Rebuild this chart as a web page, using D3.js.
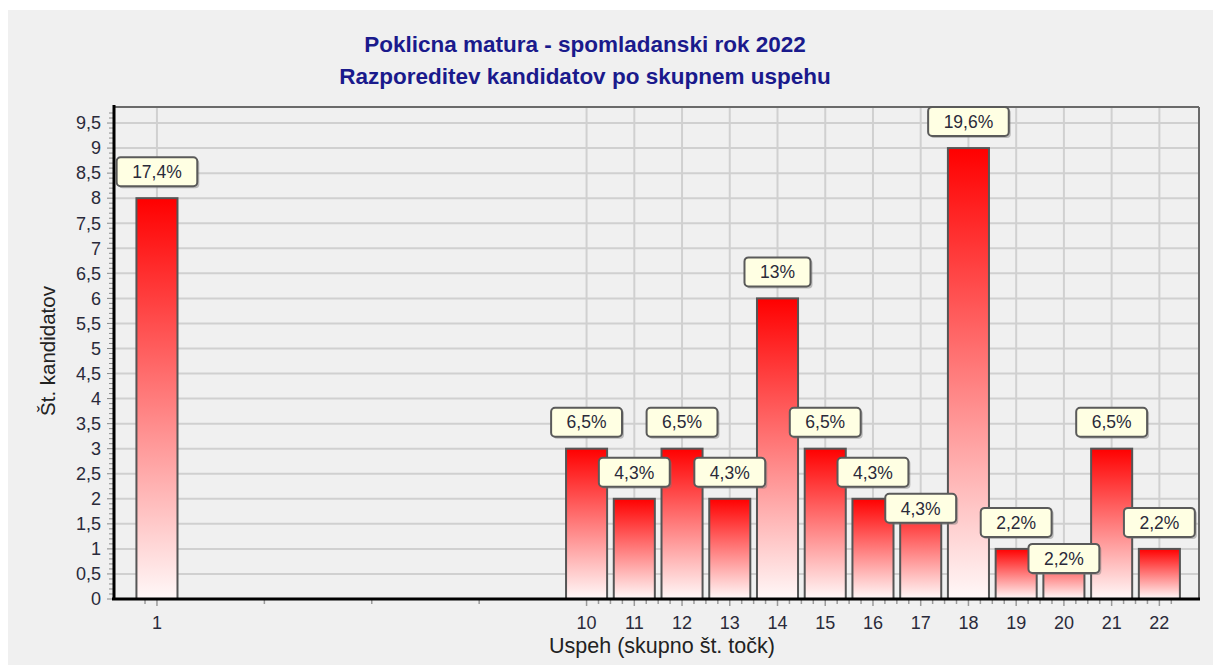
<!DOCTYPE html>
<html lang="sl">
<head>
<meta charset="utf-8">
<title>Poklicna matura - spomladanski rok 2022</title>
<script src="https://cdn.jsdelivr.net/npm/d3@7"></script>
<style>
  body { margin: 0; background: #ffffff; }
  svg { display: block; font-family: "Liberation Sans", Arial, sans-serif; }
</style>
</head>
<body>
<div id="chart"></div>
<script>
// data
var categories = [1, 10, 11, 12, 13, 14, 15, 16, 17, 18, 19, 20, 21, 22];
var counts     = [8, 3, 2, 3, 2, 6, 3, 2, 2, 9, 1, 1, 3, 1];
var pctLabels  = ["17,4%", "6,5%", "4,3%", "6,5%", "4,3%", "13%", "6,5%", "4,3%", "4,3%", "19,6%", "2,2%", "2,2%", "6,5%", "2,2%"];
var yTicks     = [0, 0.5, 1, 1.5, 2, 2.5, 3, 3.5, 4, 4.5, 5, 5.5, 6, 6.5, 7, 7.5, 8, 8.5, 9, 9.5];
var titleLines = ["Poklicna matura - spomladanski rok 2022", "Razporeditev kandidatov po skupnem uspehu"];

var w = 1213, h = 665;
var pLeft = 114, pRight = 1199, pTop = 107, pBottom = 599;

var svg = d3.select("#chart").append("svg")
  .attr("width", w).attr("height", h);

// panel background
svg.append("rect").attr("x", 8).attr("y", 10).attr("width", w - 8).attr("height", h - 10)
  .attr("fill", "#f0f0f0");

var x = d3.scaleLinear().domain([0.1, 22.83]).range([pLeft, pRight]);
var y = d3.scaleLinear().domain([0, 9.82]).range([pBottom, pTop]);

var defs = svg.append("defs");
var grad = defs.append("linearGradient").attr("id", "barGrad")
  .attr("x1", 0).attr("y1", 0).attr("x2", 0).attr("y2", 1);
grad.append("stop").attr("offset", "0%").attr("stop-color", "#ff0000");
grad.append("stop").attr("offset", "100%").attr("stop-color", "#fff8f8");

// grid
svg.append("g").selectAll("line").data(yTicks.filter(function(d){ return d > 0; }))
  .enter().append("line")
  .attr("x1", pLeft).attr("x2", pRight)
  .attr("y1", function(d){ return y(d); }).attr("y2", function(d){ return y(d); })
  .attr("stroke", "#d0d0d0").attr("stroke-width", 2);

svg.append("g").selectAll("line").data(categories)
  .enter().append("line")
  .attr("x1", function(d){ return x(d); }).attr("x2", function(d){ return x(d); })
  .attr("y1", pTop).attr("y2", pBottom)
  .attr("stroke", "#d0d0d0").attr("stroke-width", 2);

// frame top / right
svg.append("line").attr("x1", pLeft).attr("x2", pRight).attr("y1", pTop).attr("y2", pTop)
  .attr("stroke", "#6a6a6a").attr("stroke-width", 2);
svg.append("line").attr("x1", pRight).attr("x2", pRight).attr("y1", pTop).attr("y2", pBottom)
  .attr("stroke", "#6a6a6a").attr("stroke-width", 2);

// bars
var barW = x(0.86) - x(0);
svg.append("g").selectAll("rect").data(categories)
  .enter().append("rect")
  .attr("x", function(d){ return x(d) - barW / 2; })
  .attr("y", function(d, i){ return y(counts[i]); })
  .attr("width", barW)
  .attr("height", function(d, i){ return y(0) - y(counts[i]); })
  .attr("fill", "url(#barGrad)")
  .attr("stroke", "#555555").attr("stroke-width", 2);

// y axis minor ticks (every 0.1)
var minorY = d3.range(0, 98).map(function(k){ return k / 10; });
svg.append("g").selectAll("line").data(minorY)
  .enter().append("line")
  .attr("x1", function(d){ return Math.abs(d * 2 - Math.round(d * 2)) < 1e-6 ? pLeft - 7 : pLeft - 5; })
  .attr("x2", pLeft)
  .attr("y1", function(d){ return y(d); }).attr("y2", function(d){ return y(d); })
  .attr("stroke", "#8a8a8a").attr("stroke-width", 1);

// x axis ticks: categories plus quarter divisions between them
var minorX = [];
for (var i = 0; i < categories.length - 1; i++) {
  var a = categories[i], b = categories[i + 1];
  [0.25, 0.5, 0.75].forEach(function(f){ minorX.push(a + (b - a) * f); });
}
minorX.push(categories[0] - 0.25, categories[categories.length - 1] + 0.25);
svg.append("g").selectAll("line").data(minorX)
  .enter().append("line")
  .attr("x1", function(d){ return x(d); }).attr("x2", function(d){ return x(d); })
  .attr("y1", pBottom).attr("y2", pBottom + 5)
  .attr("stroke", "#9a9a9a").attr("stroke-width", 1.5);
svg.append("g").selectAll("line").data(categories)
  .enter().append("line")
  .attr("x1", function(d){ return x(d); }).attr("x2", function(d){ return x(d); })
  .attr("y1", pBottom).attr("y2", pBottom + 7)
  .attr("stroke", "#9a9a9a").attr("stroke-width", 1.5);

// axis lines
svg.append("line").attr("x1", pLeft).attr("x2", pLeft).attr("y1", pTop - 2).attr("y2", pBottom + 1)
  .attr("stroke", "#000").attr("stroke-width", 3);
svg.append("line").attr("x1", pLeft - 2).attr("x2", pRight + 1).attr("y1", pBottom).attr("y2", pBottom)
  .attr("stroke", "#000").attr("stroke-width", 3);

// tick labels
svg.append("g").selectAll("text").data(yTicks)
  .enter().append("text")
  .attr("x", pLeft - 13)
  .attr("y", function(d){ return y(d); })
  .attr("dy", "0.35em")
  .attr("text-anchor", "end")
  .attr("font-size", 18)
  .attr("fill", "#2a2a3a")
  .text(function(d){ return String(d).replace(".", ","); });

svg.append("g").selectAll("text").data(categories)
  .enter().append("text")
  .attr("x", function(d){ return x(d); })
  .attr("y", pBottom + 30)
  .attr("text-anchor", "middle")
  .attr("font-size", 18)
  .attr("fill", "#2a2a3a")
  .text(function(d){ return d; });

// axis titles
svg.append("text")
  .attr("transform", "translate(55," + 351 + ") rotate(-90)")
  .attr("text-anchor", "middle")
  .attr("font-size", 20.5)
  .attr("fill", "#222")
  .text("Št. kandidatov");

svg.append("text")
  .attr("x", 662).attr("y", 653)
  .attr("text-anchor", "middle")
  .attr("font-size", 21.5)
  .attr("fill", "#222")
  .text("Uspeh (skupno št. točk)");

// title
svg.append("g").selectAll("text").data(titleLines)
  .enter().append("text")
  .attr("x", 585)
  .attr("y", function(d, i){ return 52 + i * 32; })
  .attr("text-anchor", "middle")
  .attr("font-size", 22.5)
  .attr("font-weight", "bold")
  .attr("fill", "#1a1a8c")
  .text(function(d){ return d; });

// value callouts, pushed down if they collide with the previous one
var labelG = svg.append("g");
var boxH = 29, padX = 15.5, gap = 12, prev = null;
categories.forEach(function(c, i){
  var t = labelG.append("text")
    .attr("font-size", 17.5)
    .attr("fill", "#2a2a3a")
    .attr("text-anchor", "middle")
    .text(pctLabels[i]);
  var tw = t.node().getComputedTextLength();
  var bw = tw + padX * 2;
  var bx = x(c) - bw / 2;
  var by = y(counts[i]) - gap - boxH;
  if (prev && bx < prev.x + prev.w && by < prev.y + prev.h && by + boxH > prev.y) {
    by = prev.y + prev.h + 7;
  }
  labelG.insert("rect", function(){ return t.node(); })
    .attr("x", bx + 2).attr("y", by + 2).attr("width", bw).attr("height", boxH)
    .attr("rx", 4).attr("fill", "#777").attr("opacity", 0.45);
  labelG.insert("rect", function(){ return t.node(); })
    .attr("x", bx).attr("y", by).attr("width", bw).attr("height", boxH)
    .attr("rx", 4).attr("fill", "#ffffe3")
    .attr("stroke", "#5a5a5a").attr("stroke-width", 2);
  t.attr("x", x(c)).attr("y", by + boxH / 2).attr("dy", "0.36em");
  prev = { x: bx, y: by, w: bw, h: boxH };
});
</script>
</body>
</html>
